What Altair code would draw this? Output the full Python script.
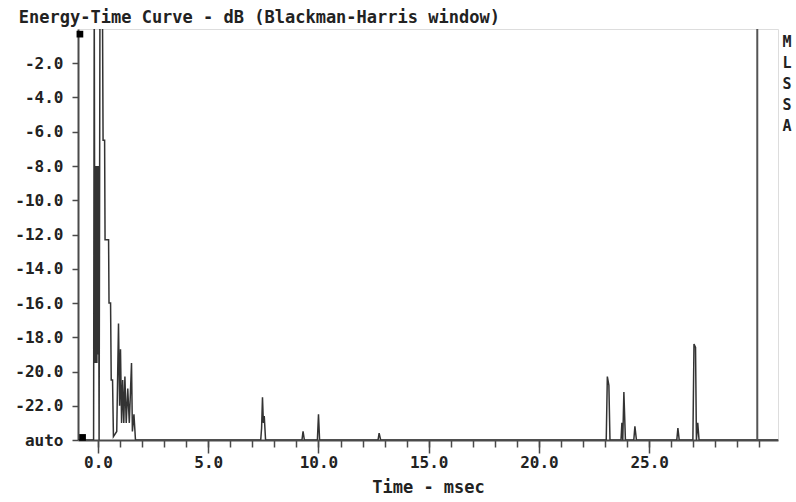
import altair as alt
import pandas as pd

# ---- data (time in msec, level in dB) ----
time_ms = [-0.91, -0.20, -0.17, -0.14, -0.12, -0.10, -0.07, -0.05, -0.03, 0.00,
           0.02, 0.05, 0.09, 0.20, 0.23, 0.30, 0.32, 0.48, 0.50, 0.57,
           0.60, 0.66, 0.70, 0.85, 0.93, 0.98, 1.02, 1.07, 1.12, 1.17,
           1.22, 1.28, 1.35, 1.42, 1.52, 1.56, 1.63, 1.70,
           7.38, 7.42, 7.46, 7.50, 7.54, 7.60,
           9.25, 9.30, 9.36,
           9.95, 10.00, 10.05,
           12.70, 12.75, 12.82,
           23.05, 23.10, 23.17, 23.22,
           23.72, 23.76, 23.80, 23.85, 23.92,
           24.30, 24.35, 24.42,
           26.25, 26.30, 26.36,
           26.98, 27.03, 27.10, 27.14, 27.20, 27.26,
           30.84]
level_db = [-24, -24, 2, -19.5, -8, -19.5, -8, -19.5, -8, -19,
            -8, -24, 2, 2, -6.5, -6.5, -12.3, -12.3, -16, -16,
            -20.5, -20.5, -23.8, -23.5, -17.2, -22, -18.7, -23, -20.5, -23,
            -20.3, -23, -21, -23, -19.5, -23.5, -22.5, -24,
            -24, -23.3, -21.5, -23, -22.6, -24,
            -24, -23.5, -24,
            -24, -22.5, -24,
            -24, -23.6, -24,
            -24, -20.3, -20.8, -24,
            -24, -23, -24, -21.2, -24,
            -24, -23.2, -24,
            -24, -23.3, -24,
            -24, -18.4, -18.6, -24, -23, -24,
            -24]

x_major_ticks = [0, 5, 10, 15, 20, 25]
x_minor_ticks = list(range(0, 31))
y_tick_values = [-24, -22, -20, -18, -16, -14, -12, -10, -8, -6, -4, -2]
x_domain = [-0.907, 30.84]
y_domain = [-24, 0]

cursor_ms = [29.9]
marker_t = [-0.82, -0.70]
marker_db = [-0.3, -23.85]
side_label = ["M\nL\nS\nS\nA"]
side_t = [31.25]
side_db = [-0.35]

FONT = "DejaVu Sans Mono"
INK = "#222222"
FRAME = "#4a4a4a"

df = pd.DataFrame({"t": time_ms, "db": level_db, "i": range(len(time_ms))})
cur_df = pd.DataFrame({"t": cursor_ms})
mk_df = pd.DataFrame({"t": marker_t, "db": marker_db})
side_df = pd.DataFrame({"t": side_t, "db": side_db, "txt": side_label})

xscale = alt.Scale(domain=x_domain, nice=False, zero=False)
yscale = alt.Scale(domain=y_domain, nice=False, zero=False)

x_axis_major = alt.Axis(
    values=x_major_ticks, format=".1f", orient="bottom",
    tickSize=13, tickWidth=1.5, tickColor=FRAME,
    domainColor=FRAME, domainWidth=2,
    labelFont=FONT, labelFontSize=16, labelFontWeight="bold", labelColor=INK,
    labelPadding=1, labelFlush=False, labelOverlap=False, labelBound=False,
    title="Time - msec", titleFont=FONT, titleFontSize=17, titleFontWeight="bold",
    titleColor=INK, titlePadding=9, grid=False,
)
x_axis_minor = alt.Axis(
    values=x_minor_ticks, orient="bottom", labels=False, title=None,
    tickSize=7, tickWidth=1.5, tickColor=FRAME, domain=False, grid=False,
)
y_axis = alt.Axis(
    values=y_tick_values,
    labelExpr="datum.value === -24 ? 'auto' : '-' + format(abs(datum.value), '.1f')",
    tickSize=6, tickWidth=1.5, tickColor=FRAME,
    domainColor=FRAME, domainWidth=2,
    labelFont=FONT, labelFontSize=16, labelFontWeight="bold", labelColor=INK,
    labelPadding=9, labelFlush=False, labelOverlap=False, labelBound=False,
    title=None, grid=False,
)

X = lambda: alt.X("t:Q", scale=xscale, axis=x_axis_major)
Y = lambda: alt.Y("db:Q", scale=yscale, axis=y_axis)

trace = alt.Chart(df).mark_line(color="#333333", strokeWidth=1.5, clip=True).encode(
    x=X(), y=Y(), order="i:Q",
)

markers = alt.Chart(mk_df).mark_square(color="black", size=45, opacity=1).encode(
    x=X(), y=Y(),
)

side = alt.Chart(side_df).mark_text(
    font=FONT, fontSize=15, fontWeight="bold", color=INK,
    lineBreak="\n", lineHeight=21, baseline="top", align="center",
).encode(
    x=X(), y=Y(), text="txt:N",
)

cursor = alt.Chart(cur_df).mark_rule(color="#555555", strokeWidth=2).encode(
    x=alt.X("t:Q", scale=xscale, axis=x_axis_minor),
)

main = alt.layer(trace, markers, side)

chart = alt.layer(main, cursor).resolve_scale(x="independent").properties(
    width=700,
    height=411,
    title=alt.TitleParams(
        "Energy-Time Curve - dB (Blackman-Harris window)",
        anchor="start", dx=4, offset=1,
        font=FONT, fontSize=17, fontWeight="bold", color=INK,
    ),
    autosize=alt.AutoSizeParams(type="none"),
    padding={"left": 78, "top": 29, "right": 18, "bottom": 62},
).configure_view(
    stroke=FRAME, strokeWidth=2
).configure_axis(
    labelOverlap=False, labelFlush=False
).configure(background="white")

chart.save("out.html", embed_options={"renderer": "svg", "actions": False})
